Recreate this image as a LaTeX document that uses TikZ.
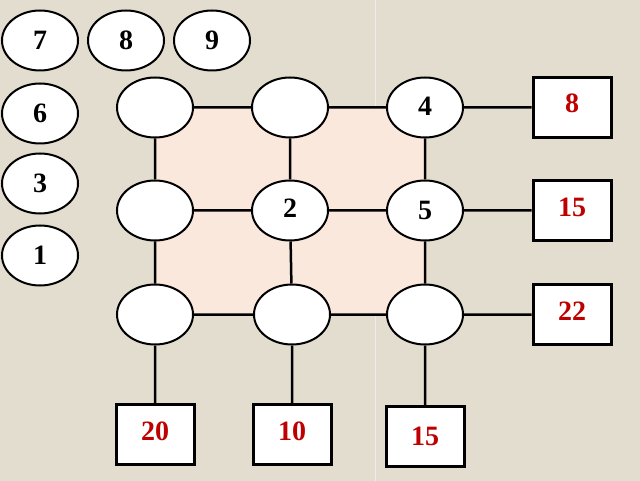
\documentclass[tikz,border=0pt]{standalone}
\usepackage{fontspec}
\setmainfont{Liberation Serif}
\usetikzlibrary{shapes.geometric}
\begin{document}
\begin{tikzpicture}[x=1pt,y=-1pt,
 ov/.style={draw=black,line width=2pt,fill=white,ellipse,minimum width=76pt,minimum height=60pt,inner sep=0pt,font=\fontsize{28}{28}\selectfont\bfseries},
 bx/.style={draw=black,line width=3pt,fill=white,minimum width=78pt,minimum height=60pt,inner sep=0pt,font=\fontsize{28}{28}\selectfont\bfseries,text=red!75!black},
 ln/.style={line width=2.5pt}]
\fill[fill={rgb,255:red,226;green,221;blue,206}] (0,0) rectangle (640,480);
\draw[white!85!gray,line width=1pt] (375,0) -- (375,480);
\fill[fill={rgb,255:red,251;green,232;blue,220}] (155,107) rectangle (427,314);
\node[ov] (a1) at (155,107) {};
\node[ov] (a2) at (290,107) {};
\node[ov] (a3) at (425,107) {\raisebox{3pt}{4}};
\node[ov] (b1) at (155,210) {};
\node[ov] (b2) at (290,210) {\raisebox{4pt}{2}};
\node[ov] (b3) at (425,210) {\raisebox{-4pt}{5}};
\node[ov] (c1) at (155,314) {};
\node[ov] (c2) at (292,314) {};
\node[ov] (c3) at (425,314) {};
\node[ov] (n7) at (40,40) {7};
\node[ov] (n8) at (126,40) {8};
\node[ov] (n9) at (212,40) {9};
\node[ov] (n6) at (40,113) {6};
\node[ov] (n3) at (40,183) {3};
\node[ov] (n1) at (40,255) {1};
\node[bx] (r1) at (572,107) {\raisebox{8pt}{8}};
\node[bx] (r2) at (572,210) {\raisebox{6pt}{15}};
\node[bx] (r3) at (572,314) {\raisebox{6pt}{22}};
\node[bx] (d1) at (155,434) {\raisebox{6pt}{20}};
\node[bx] (d2) at (292,434) {\raisebox{6pt}{10}};
\node[bx] (d3) at (425,436) {15};
\draw[ln] (a1) -- (a2) (a2) -- (a3) (b1) -- (b2) (b2) -- (b3) (c1) -- (c2) (c2) -- (c3)
 (a1) -- (b1) (b1) -- (c1) (a2) -- (b2) (b2) -- (c2) (a3) -- (b3) (b3) -- (c3)
 (a3.east) -- (r1.west) (b3.east) -- (r2.west) (c3.east) -- (r3.west)
 (c1.south) -- (d1.north) (c2.south) -- (d2.north) (c3.south) -- (d3.north);
\end{tikzpicture}
\end{document}
